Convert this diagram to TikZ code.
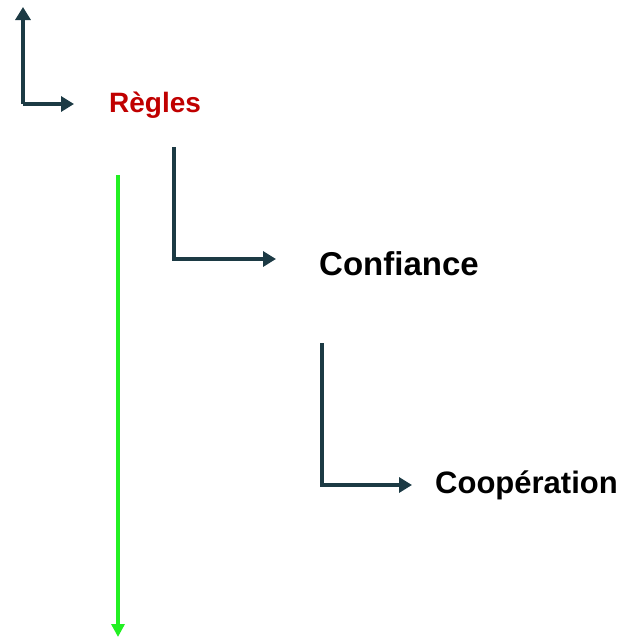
\documentclass[tikz,border=0pt]{standalone}
\usepackage{fontspec}
\setmainfont{Liberation Sans}
\usetikzlibrary{arrows.meta}
\definecolor{slate}{HTML}{1C3A44}
\definecolor{rouge}{HTML}{C00000}
\definecolor{vert}{HTML}{22F022}

\begin{document}
\begin{tikzpicture}[x=1pt,y=-1pt,inner sep=0pt,line width=4.4pt]
	\useasboundingbox (0,0) rectangle (621,638);
	\tikzset{link/.style={draw=slate,-{Triangle[length=13pt,width=15pt]}},
		label/.style={anchor=base west,font=\bfseries}}
	\node (regles) at (107,112) [label,text=rouge,font=\bfseries\fontsize{28}{30}\selectfont] {Règles};
	\node (confiance) at (317,275) [label,font=\bfseries\fontsize{33}{36}\selectfont] {Confiance};
	\node (coop) at (433,493) [label,font=\bfseries\fontsize{31}{34}\selectfont] {Coopération};
	\coordinate (c1) at (23,104);
	\coordinate (t1) at (23,7);
	\coordinate (e1) at (74,104);
	\coordinate (s2) at (174,147);
	\coordinate (c2) at (174,259);
	\coordinate (e2) at (276,259);
	\coordinate (s3) at (322,343);
	\coordinate (c3) at (322,485);
	\coordinate (e3) at (412,485);
	\coordinate (g1) at (118,175);
	\coordinate (g2) at (118,637);
	\draw [link] (c1) -- (t1);
	\draw [link] (c1) -- (e1);
	\draw [link] (s2) -- (c2) -- (e2);
	\draw [link] (s3) -- (c3) -- (e3);
	\draw [draw=vert,line width=3.6pt,-{Triangle[length=13pt,width=13pt]}] (g1) -- (g2);
\end{tikzpicture}
\end{document}
